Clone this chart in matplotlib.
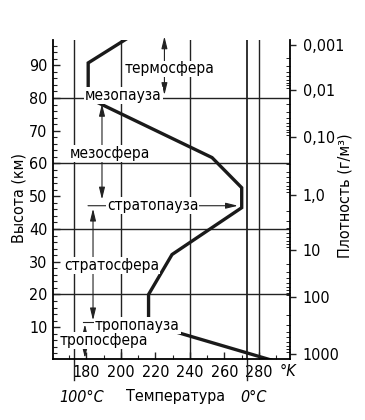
import numpy as np
import matplotlib
matplotlib.use("Agg")
import matplotlib.pyplot as plt
from matplotlib import font_manager
from matplotlib.ticker import FixedLocator, MultipleLocator, NullFormatter, FixedFormatter

# pick a narrow font if one is installed
_names = {f.name for f in font_manager.fontManager.ttflist}
STRETCH = 'normal'
if 'Liberation Sans Narrow' in _names:
    FAM = ['Liberation Sans Narrow', 'DejaVu Sans']
    SCALE = 1.0
elif any(f.name == 'DejaVu Sans' and 'Condensed' in f.fname for f in font_manager.fontManager.ttflist):
    FAM = ['DejaVu Sans']
    STRETCH = 'condensed'
    SCALE = 0.92
else:
    FAM = ['Liberation Sans', 'DejaVu Sans']
    SCALE = 0.9
plt.rcParams['font.family'] = FAM
plt.rcParams['font.stretch'] = STRETCH

# ---- data ----
temp_K = [287, 216, 216, 229.6, 270, 270, 252.8, 181, 181, 204]
alt_km = [0, 11, 20, 32.2, 46.5, 52.6, 61.8, 80, 90.7, 98.3]

alt_grid = [20, 40, 60, 80]
temp_grid = [173, 200, 240, 273, 280]
temp_ticks = [180, 200, 220, 240, 260, 280]
alt_ticks = [10, 20, 30, 40, 50, 60, 70, 80, 90]

dens_ticks = [1e-3, 1e-2, 1e-1, 1.0, 10, 100, 1000]
dens_labels = ['0,001', '0,01', '0,10', '1,0', '10', '100', '1000']
dens_alt = [96.2, 82.5, 68.1, 50.5, 33.7, 19.1, 1.7]   # altitude where each density label sits

layer_labels = ['термосфера', 'мезопауза', 'мезосфера', 'стратопауза',
                'стратосфера', 'тропопауза', 'тропосфера']

FS_TICK = 12.5 * SCALE
FS_TXT = 12.0 * SCALE
FS_LAB = 12.5 * SCALE

# ---- figure ----
fig = plt.figure(figsize=(3.65, 4.2), dpi=100)
ax = fig.add_axes([53/365, 61/420, 237/365, 319/420])
YLIM = (0.3, 97.7)
ax.set_xlim(160.6, 298.0)
ax.set_ylim(*YLIM)

ax.spines['top'].set_visible(False)
ax.spines['right'].set_visible(False)
for s in ['left', 'bottom']:
    ax.spines[s].set_linewidth(1.3)

# grid lines
for a in alt_grid:
    ax.axhline(a, color='#222222', lw=1.0, zorder=1)
for t in temp_grid:
    ax.axvline(t, color='#222222', lw=1.3 if t == 273 else 1.0, zorder=1)
# extensions of -100C and 0C lines below axis
for t in (173, 273):
    ax.plot([t, t], [YLIM[0], -6.2], color='#222222', lw=1.0, clip_on=False)

# temperature curve
ax.plot(temp_K, alt_km, color='#1a1a1a', lw=2.4, zorder=2, solid_joinstyle='miter')

# ticks
ax.xaxis.set_major_locator(FixedLocator(temp_ticks))
ax.xaxis.set_minor_locator(MultipleLocator(10))
ax.yaxis.set_major_locator(FixedLocator(alt_ticks))
ax.yaxis.set_minor_locator(MultipleLocator(2))
ax.tick_params(axis='both', which='major', direction='in', length=5, width=1.0,
               labelsize=FS_TICK, pad=4, color='#222222')
ax.tick_params(axis='both', which='minor', direction='in', length=3, width=0.8,
               color='#222222')

# right density axis (non-uniform log scale, positioned against altitude)
lp = np.log10(dens_ticks)


def dens_to_alt(d):
    return np.interp(np.log10(d), lp, dens_alt)


ax2 = ax.twinx()
ax2.set_ylim(*YLIM)
for s in ['top', 'left', 'bottom']:
    ax2.spines[s].set_visible(False)
ax2.spines['right'].set_linewidth(1.3)
ax2.yaxis.set_major_locator(FixedLocator(dens_to_alt(dens_ticks)))
ax2.yaxis.set_major_formatter(FixedFormatter(dens_labels))
minors = [k * 10.0 ** e for e in range(-3, 3) for k in range(2, 10)]
ax2.yaxis.set_minor_locator(FixedLocator(dens_to_alt(minors)))
ax2.yaxis.set_minor_formatter(NullFormatter())
ax2.tick_params(axis='y', which='major', direction='out', length=4, width=1.0,
                labelsize=FS_TICK, pad=5, color='#222222')
ax2.tick_params(axis='y', which='minor', direction='in', length=3, width=0.7,
                color='#222222')

# axis labels
fig.text(19/365, 1 - 198/420, 'Высота (км)', rotation=90, ha='center', va='center',
         fontsize=FS_LAB)
fig.text(345/365, 1 - 196/420, 'Плотность (г/м³)', rotation=90, ha='center',
         va='center', fontsize=FS_LAB)
fig.text(82/365, 1 - 397/420, '100°C', ha='center', va='center', fontsize=FS_LAB,
         style='italic')
fig.text(176/365, 1 - 397/420, 'Температура', ha='center', va='center', fontsize=FS_LAB)
fig.text(253/365, 1 - 397/420, '0°C', ha='center', va='center', fontsize=FS_LAB,
         style='italic')
fig.text(288/365, 1 - 371/420, '°K', ha='center', va='center', fontsize=FS_LAB,
         style='italic')

# layer annotations
bbox = dict(facecolor='white', edgecolor='none', pad=0.6)
txt_kw = dict(ha='center', va='center', fontsize=FS_TXT, zorder=6, bbox=bbox)
dbl = dict(arrowstyle='<|-|>,head_length=0.9,head_width=0.22', lw=0.8,
           color='#222222', shrinkA=0, shrinkB=0, mutation_scale=8)

# thermosphere
ax.annotate('', xy=(225.2, 98.8), xytext=(225.2, 80.9), arrowprops=dbl,
            annotation_clip=False, zorder=4)
ax.text(228.4, 88.9, layer_labels[0], **txt_kw)
# mesopause
ax.text(201.4, 80.8, layer_labels[1], **txt_kw)
# mesosphere
ax.annotate('', xy=(189.0, 78.2), xytext=(189.0, 49.0), arrowprops=dbl, zorder=4)
ax.text(193.6, 63.0, layer_labels[2], **txt_kw)
# stratopause
ax.annotate('', xy=(267.8, 47.1), xytext=(180.9, 47.1),
            arrowprops=dict(arrowstyle='-|>,head_length=0.9,head_width=0.22', lw=0.8,
                            color='#222222', shrinkA=0, shrinkB=0, mutation_scale=8),
            zorder=4)
ax.text(218.3, 47.1, layer_labels[3], **txt_kw)
# stratosphere
ax.annotate('', xy=(183.8, 46.2), xytext=(183.8, 12.1), arrowprops=dbl, zorder=4)
ax.text(194.5, 28.8, layer_labels[4], **txt_kw)
# tropopause
ax.plot([178.0, 188.0], [11.5, 11.5], color='#222222', lw=0.8, zorder=4)
ax.text(209.6, 10.6, layer_labels[5], **txt_kw)
# troposphere
ax.annotate('', xy=(179.1, 10.9), xytext=(179.1, 0.6), arrowprops=dbl, zorder=4)
ax.text(190.1, 6.0, layer_labels[6], **txt_kw)

fig.savefig('out.png', dpi=100)
